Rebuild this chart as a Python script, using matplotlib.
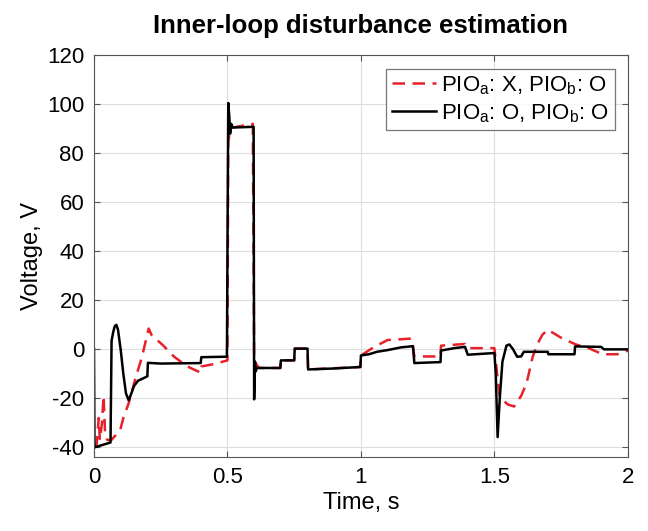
import matplotlib
matplotlib.use("Agg")
import matplotlib.pyplot as plt

plt.rcParams['font.family'] = ['Liberation Sans', 'DejaVu Sans']
plt.rcParams['mathtext.fontset'] = 'custom'
plt.rcParams['mathtext.rm'] = 'Liberation Sans'
plt.rcParams['mathtext.it'] = 'Liberation Sans'
plt.rcParams['axes.unicode_minus'] = False

# curva sem PIO_a (vermelha tracejada)
t_red = [0, 0.01, 0.018, 0.022, 0.03, 0.036, 0.042, 0.05, 0.065, 0.098, 0.11, 0.13,
         0.155, 0.18, 0.205, 0.215, 0.26, 0.3, 0.35, 0.39, 0.4, 0.402, 0.45, 0.5,
         0.503, 0.51, 0.52, 0.57, 0.595, 0.6, 0.61, 0.62, 0.698, 0.7, 0.75, 0.752,
         0.8, 0.802, 0.998, 1.0, 1.05, 1.1, 1.19, 1.2, 1.298, 1.3, 1.39, 1.4, 1.5,
         1.51, 1.52, 1.55, 1.574, 1.6, 1.62, 1.643, 1.66, 1.68, 1.70, 1.755, 1.805,
         1.855, 1.905, 1.96, 2.0]
v_red = [-40, -39, -28, -37, -30, -19, -35, -37, -37, -33, -28, -22,
         -12, -3, 8.5, 6, 1.5, -3, -7, -9, -9.5, -7, -6, -4.5,
         85, 89, 90.5, 91.5, 92, -4, -6.5, -7.6, -7.6, -4.5, -4.5, 0.3,
         0.3, -8.2, -7.2, -2.5, 1, 3.8, 4.4, -2.9, -2.9, 1.5, 2.2, 0.5, 0.5,
         -10, -19.5, -22.5, -23.3, -19, -14, -3.2, 2, 6, 8.0, 4.4, 2.0,
         0.4, -2.0, -2.0, -0.5]

# curva com PIO_a e PIO_b (preta)
t_blk = [0, 0.002, 0.062, 0.066, 0.072, 0.078, 0.084, 0.09, 0.1, 0.11, 0.12, 0.13,
         0.14, 0.15, 0.165, 0.185, 0.2, 0.202, 0.25, 0.4, 0.402, 0.498, 0.503, 0.507,
         0.51, 0.514, 0.52, 0.598, 0.6, 0.603, 0.606, 0.61, 0.698, 0.7, 0.75, 0.752,
         0.8, 0.802, 0.9, 0.998, 1.0, 1.03, 1.06, 1.1, 1.15, 1.195, 1.2, 1.298, 1.3,
         1.35, 1.39, 1.4, 1.5, 1.505, 1.512, 1.52, 1.53, 1.545, 1.556, 1.57, 1.585,
         1.6, 1.61, 1.7, 1.702, 1.8, 1.802, 1.9, 1.91, 2.0]
v_blk = [0.3, -40, -38, 3.5, 7, 9.5, 10, 8, 0, -10, -18, -20.8,
         -18, -15, -12.8, -11.8, -11, -5.5, -5.8, -5.6, -3.2, -3.0, 100.5, 95,
         88, 92, 90.5, 90.8, -20.4, -5, -9, -7.6, -7.6, -4.5, -4.5, 0.3,
         0.3, -8.2, -7.8, -7.2, -2.5, -2, -1, -0.3, 0.8, 1.3, -5.6, -5.2, -0.5,
         0.5, 1, -2.2, -1.5, -10, -35.8, -20, -5, 1.5, 2.0, 0, -3,
         -2.9, -1, -1, -2.0, -2.0, 1.2, 1.0, 0, 0]

fig = plt.figure(figsize=(6.48, 5.31), dpi=100)
ax = fig.add_axes([0.145, 0.139, 0.824, 0.757])

ax.plot(t_red, v_red, color='#e8202a', linestyle=(0, (5, 3)), linewidth=1.8,
        label=r'PIO$_\mathregular{a}$: X, PIO$_\mathregular{b}$: O')
ax.plot(t_blk, v_blk, color='black', linewidth=1.8,
        label=r'PIO$_\mathregular{a}$: O, PIO$_\mathregular{b}$: O')

ax.set_xlim(0, 2)
ax.set_ylim(-44, 120)
ax.set_xticks([0, 0.5, 1, 1.5, 2])
ax.set_xticklabels(['0', '0.5', '1', '1.5', '2'])
ax.set_yticks(range(-40, 121, 20))
ax.grid(True, color='#dddddd', linewidth=0.8)
ax.tick_params(direction='in', top=True, right=True, labelsize=16, length=4,
               color='#555555', pad=7)
for s in ax.spines.values():
    s.set_color('#555555')

ax.set_title('Inner-loop disturbance estimation', fontsize=18.5, fontweight='bold', pad=16)
ax.set_xlabel('Time, s', fontsize=17, labelpad=3)
ax.set_ylabel('Voltage, V', fontsize=17, labelpad=3)

leg = ax.legend(loc='upper right', fontsize=16, frameon=True, fancybox=False,
                edgecolor='#555555', handlelength=2.0, handletextpad=0.2,
                borderpad=0.25, labelspacing=0.25, borderaxespad=0.6)
leg.get_frame().set_linewidth(0.9)

fig.savefig('out.png', dpi=100)
